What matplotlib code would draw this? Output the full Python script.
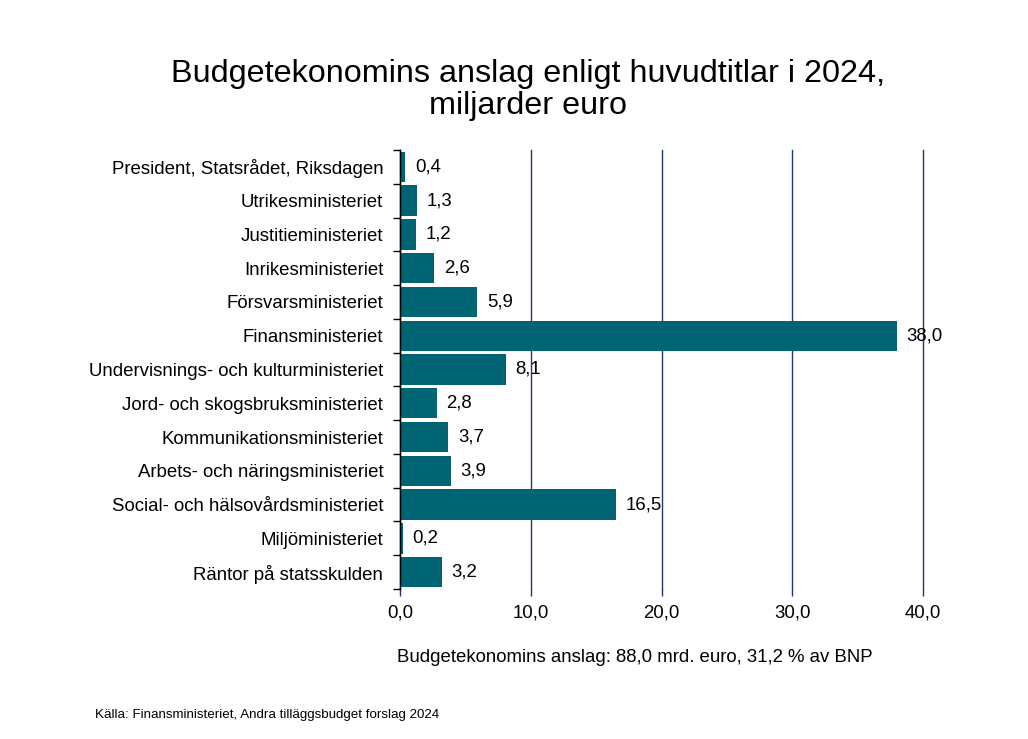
import matplotlib

matplotlib.use("Agg")
import matplotlib.pyplot as plt

CATEGORIES = [
    "President, Statsrådet, Riksdagen",
    "Utrikesministeriet",
    "Justitieministeriet",
    "Inrikesministeriet",
    "Försvarsministeriet",
    "Finansministeriet",
    "Undervisnings- och kulturministeriet",
    "Jord- och skogsbruksministeriet",
    "Kommunikationsministeriet",
    "Arbets- och näringsministeriet",
    "Social- och hälsovårdsministeriet",
    "Miljöministeriet",
    "Räntor på statsskulden",
]
VALUES = [0.4, 1.3, 1.2, 2.6, 5.9, 38.0, 8.1, 2.8, 3.7, 3.9, 16.5, 0.2, 3.2]
X_TICKS = [0, 10, 20, 30, 40]

BAR_COLOR = "#006472"
GRID_COLOR = "#1f3a68"
TEXT_SIZE = 13.4


def fmt(value: float) -> str:
    return f"{value:.1f}".replace(".", ",")


def plot() -> None:
    plt.rcParams.update(
        {
            "font.family": ["Liberation Sans", "DejaVu Sans"],
            "axes.unicode_minus": False,
        }
    )

    fig = plt.figure(figsize=(10.28, 7.39), dpi=100)
    ax = fig.add_axes([400 / 1028, 1 - 589 / 739, 523 / 1028, 439 / 739])

    positions = list(range(len(CATEGORIES)))
    bars = ax.barh(positions, VALUES, height=0.9, color=BAR_COLOR, zorder=3)
    ax.bar_label(bars, labels=[fmt(v) for v in VALUES], padding=7, fontsize=TEXT_SIZE)

    ax.set_ylim(len(CATEGORIES) - 0.5, -0.5)
    ax.set_xlim(0, 40)
    ax.set_yticks(positions, CATEGORIES, fontsize=TEXT_SIZE)
    ax.set_yticks([p - 0.5 for p in positions] + [len(CATEGORIES) - 0.5], minor=True)
    ax.tick_params(axis="y", which="major", length=0, pad=12)
    ax.tick_params(axis="y", which="minor", length=5, width=1, color="black", direction="out")

    ax.set_xticks(X_TICKS, [fmt(t) for t in X_TICKS], fontsize=TEXT_SIZE)
    ax.tick_params(axis="x", length=5, width=1, color=GRID_COLOR, pad=6)
    ax.grid(axis="x", color=GRID_COLOR, linewidth=1, zorder=0)
    ax.set_axisbelow(True)
    for line in ax.get_xgridlines():
        line.set_clip_on(False)

    for side in ("top", "right", "bottom"):
        ax.spines[side].set_visible(False)
    ax.spines["left"].set_color("black")
    ax.spines["left"].set_linewidth(1)
    ax.spines["left"].set_zorder(4)

    fig.text(
        528 / 1028,
        1 - 90 / 739,
        "Budgetekonomins anslag enligt huvudtitlar i 2024,\nmiljarder euro",
        ha="center",
        va="center",
        fontsize=23.3,
        linespacing=1.1,
    )
    fig.text(
        397 / 1028,
        1 - 658 / 739,
        "Budgetekonomins anslag: 88,0 mrd. euro, 31,2 % av BNP",
        ha="left",
        va="center",
        fontsize=TEXT_SIZE,
    )
    fig.text(
        95 / 1028,
        1 - 715 / 739,
        "Källa: Finansministeriet, Andra tilläggsbudget forslag 2024",
        ha="left",
        va="center",
        fontsize=9.6,
    )

    fig.savefig("out.png", dpi=100)
    plt.close(fig)


if __name__ == "__main__":
    plot()
